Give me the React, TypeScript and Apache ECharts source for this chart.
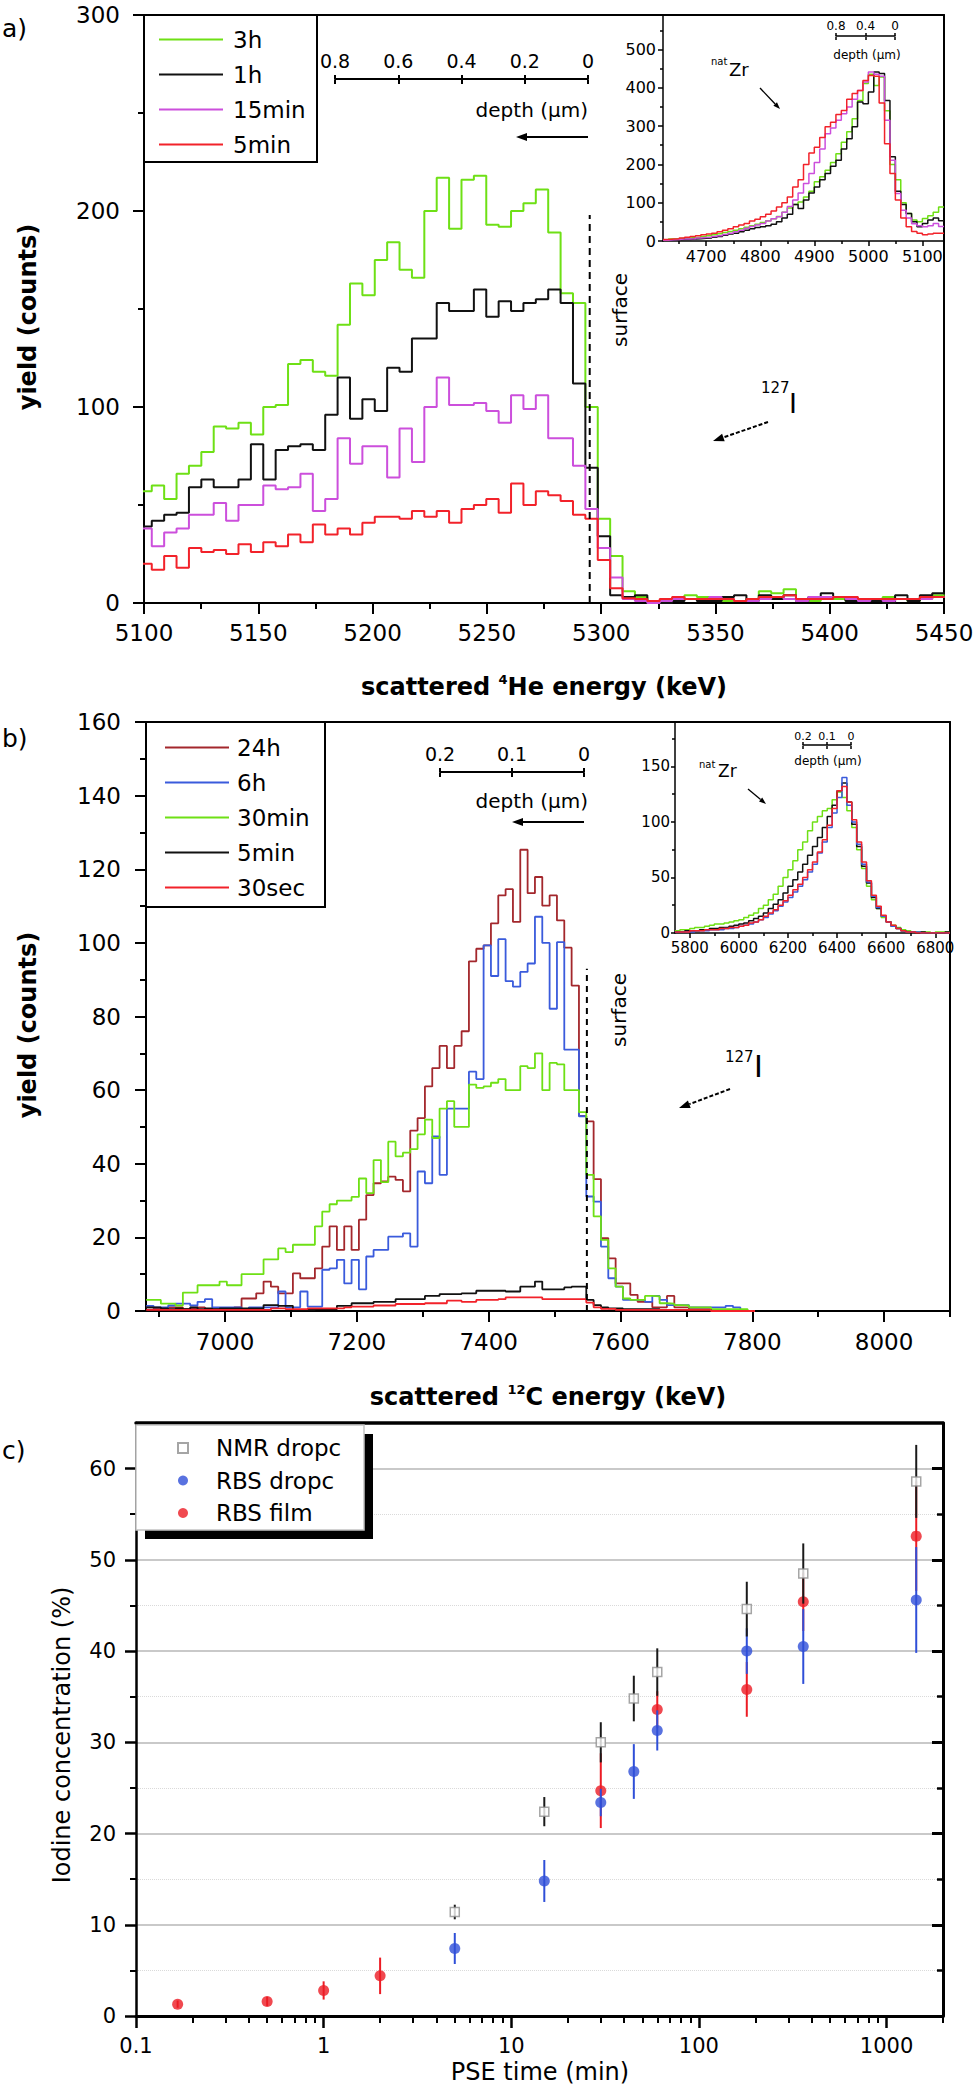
import React, { useEffect, useRef } from "react";
import * as echarts from "echarts";

const FONT = '"DejaVu Sans", Verdana, sans-serif';

/* ---------------- panel a) : 4He RBS spectra, counts per channel ---------------- */
const aChannel0 = 5097.98; // keV, lower edge of first channel drawn
const aChannelWidth = 5.42; // keV per channel
const a3h = [57,60,53,66,70,77,90,89,92,86,100,101,122,124,118,116,142,163,157,175,184,170,166,200,217,191,216,218,193,192,200,204,211,189,158,153,100,43,24,6,3,1,1,2,4,3,2,1,1,2,6,5,7,2,1,3,2,1,1,1,3,2,1,2,4];
const a1h = [39,42,45,46,59,63,59,59,63,81,63,78,80,81,78,96,115,94,104,98,120,118,135,135,153,149,149,160,146,154,149,153,155,160,153,112,69,34,4,3,4,1,0,1,2,1,1,3,4,1,4,2,4,1,3,5,3,1,2,1,0,4,1,4,5];
const a15min = [38,29,36,38,45,45,51,42,50,50,60,58,59,66,47,53,84,71,80,80,64,89,72,100,115,101,101,102,98,92,106,99,106,84,84,70,48,28,13,2,1,0,1,2,2,2,3,2,1,1,2,3,2,1,3,3,3,2,1,2,1,2,2,2,3];
const a5min = [20,17,24,18,28,26,27,25,30,26,31,29,35,31,40,35,38,35,41,44,44,43,47,44,47,41,48,50,53,46,61,50,57,55,52,45,43,22,7.5,2.4,2,1,2,3,2,2,2,2,1,2,3,3,4,2,2,2,3,3,2,2,2,2,2,3,3];
const aSurfaceE = 5295;
const aSurfaceTop = 198;

const aInChannel0 = 4620;
const aInChannelWidth = 10;
const aIn3h = [3,5,6,7,8,9,10,12,14,16,19,22,25,28,32,36,40,44,48,53,58,64,75,86,95,102,115,130,155,168,185,205,228,258,285,319,367,411,435,406,428,340,200,160,100,72,55,50,59,66,75,89];
const aIn1h = [2,3,3,4,4,5,6,7,8,10,12,15,18,20,24,28,32,35,37,40,44,50,60,70,95,85,107,125,141,160,176,195,211,240,267,298,363,358,389,441,437,367,220,130,95,72,50,37,46,55,60,53];
const aIn15min = [2,3,4,5,5,6,8,9,10,12,14,17,20,24,28,33,38,42,46,52,58,63,75,90,107,125,150,176,205,240,280,295,315,332,350,370,393,415,441,435,430,315,211,124,80,60,45,40,37,40,46,38];
const aIn5min = [4,5,6,8,10,12,14,16,18,20,24,28,32,37,42,46,52,57,63,70,78,89,100,115,141,160,200,230,245,270,298,310,330,341,370,385,393,419,432,430,360,254,176,107,60,37,25,20,16,18,20,20];

const aNames = ["3h", "1h", "15min", "5min"];
const aInXLabels = [4700, 4800, 4900, 5000, 5100];
const aInXMinor = [4650, 4750, 4850, 4950, 5050];
const aInYLabels = [0, 100, 200, 300, 400, 500];

/* ---------------- panel b) : 12C spectra ---------------- */
const bChannel0 = 6880.3;
const bChannelWidth = 11.13;
const b24h = [1,0.7,0.7,1,1,0.5,0.7,1,0.5,0.5,0.7,0.7,1,3.4,3.4,4.8,8,6.6,4.8,4.8,10.2,8.9,8.9,11.6,17.5,23,16.6,23,16.6,24.8,31.5,34.7,35.2,36.5,35.6,32.5,49,52.4,61,66,72,66,72,76,95,98.4,99.3,105.3,112.9,114.6,105.7,125.3,113.5,117.9,110.1,112.9,106.1,98.7,88.4,53,51.5,35.8,19.8,14.3,7.5,7.5,4.4,2.5,2.5,1,1,4.1,1,1,0.5,0.5,0.5,0.3,0.3,0.3,0,0,0];
const b6h = [1.4,1,1,1.5,2,2,1.5,2.5,3.2,1,1,1,1,0.5,1,1,1,1,5.3,1,1,5.3,1.2,1.2,11.2,11.6,13.9,7.5,13.9,5.9,14.8,16.6,16.6,20.2,20.2,21.1,17.5,37.9,34.7,47.4,37,55,55,55,65,63,99.3,91,101,89.6,88.1,92.1,94.4,107.1,100,82.1,100.2,71,71,52.9,31.1,29.7,17.5,8.9,6.6,3,3,3,2.5,4.1,3,1.6,1.6,1.6,1,1,1,1,1,1.4,1,0,0];
const b30min = [3,3,2,2,1.5,5,5,7,7,7,8,7,7,10,10,10,14,14,17,16,18,18,18,23,27,29,30,30,31,36,32,41,35,46,42,43,44,48,52,47,55,57,50,50,61.5,60.6,61,62,63,60,60,66.5,66,70,60,67.4,67,60,60,54,37,25.7,19.3,11.6,6.6,3.4,3,3,4.1,4,2.1,2,1.6,1.5,1,1,1,0.5,0.5,0.5,0.5,0.5,0];
const b5min = [1,1,0.7,0.5,0.7,0.5,1,0.5,0.7,0.5,0.7,0.7,0.7,0.7,0.7,0.7,1.6,1.6,1.4,1.4,0.3,0.3,0.3,0.5,0.5,0.5,1.4,1.4,2.1,2.1,2.1,2.5,2.5,2.5,3.2,3.2,3.2,3.2,4.1,4.1,4.6,4.6,4.6,4.8,4.8,5.5,5.5,5.5,5.5,5.3,5.3,6.6,6.6,8,5.9,5.9,5.9,6.4,6.6,6.6,3,1.6,1,0.7,0.7,0.5,0.5,0.5,0.5,0.5,0.3,0.3,0.3,0.3,0.3,0.3,0.3,0,0,0,0,0,0];
const b30sec = [0.3,0.3,0.3,0.3,0.3,0.3,0.3,0.3,0.3,0.3,0.3,0.3,0.3,0.3,0.3,0.3,0.3,0.7,0.7,0.5,0.5,0.5,0.7,0.7,0.7,0.7,0.7,1,1.2,1.2,1.2,1.5,1.5,1.5,1.9,1.9,1.9,1.9,2.1,2.1,2.1,2.8,2.8,2.5,2.5,3,3,3,3.2,3.7,3.7,3.7,3.7,3.7,3.2,3.2,3.2,3.2,3.2,3.2,2.3,1,0.6,0.6,0.3,0.3,0.3,0.3,0.3,0.3,0.3,0.3,0.3,0.3,0.3,0.3,0.3,0,0,0,0,0,0];
const bSurfaceE = 7549;
const bSurfaceTop = 93;

const bInChannel0 = 5740;
const bInChannelWidth = 20;
const bIn30min = [2,3,3,4,5,5,6,7,8,8,9,10,11,12,14,16,18,22,25,30,35,42,50,57,65,75,82,92,100,105,110,112,120,127,122,110,95,75,58,42,30,22,14,10,7,5,3,2,1,1,1,1,0,1,1,1];
const bIn5min = [1,1,2,2,2,3,3,4,4,5,5,6,7,8,9,11,13,15,18,22,26,30,36,42,48,55,62,70,78,86,95,105,115,128,135,118,98,78,60,45,32,22,15,10,6,4,2,1,1,0,1,0,0,0,0,1];
const bIn6h = [1,1,1,1,2,2,2,3,3,3,4,4,5,6,7,8,10,12,14,17,20,24,28,32,37,42,48,55,62,72,82,95,108,122,140,115,100,80,62,46,33,23,15,10,6,4,2,1,1,1,0,0,0,0,0,0];
const bIn30sec = [1,1,1,2,2,2,3,3,3,4,4,5,5,6,7,9,10,12,15,18,21,25,29,34,39,44,50,57,64,73,84,97,112,128,132,118,102,82,64,47,34,24,16,10,7,4,2,1,1,0,0,0,0,0,0,0];

const bNames = ["24h", "6h", "30min", "5min", "30sec"];
const bXLabels = [7000, 7200, 7400, 7600, 7800, 8000];
const bXMinor = [6900, 7100, 7300, 7500, 7700, 7900, 8100];
const bInXLabels = [5800, 6000, 6200, 6400, 6600, 6800];
const bInXMinor = [5900, 6100, 6300, 6500, 6700];
const bInYLabels = [0, 50, 100, 150];

/* ---------------- panel c) : iodine concentration vs PSE time ---------------- */
const cNmrT = [5, 15, 30, 45, 60, 180, 360, 1440];
const cNmr = [11.4, 22.4, 30.0, 34.8, 37.7, 44.6, 48.5, 58.6];
const cNmrErr = [0.8, 1.6, 2.2, 2.5, 2.6, 3.0, 3.3, 4.0];
const cDropT = [5, 15, 30, 45, 60, 180, 360, 1440];
const cDrop = [7.4, 14.8, 23.4, 26.8, 31.3, 40.0, 40.5, 45.6];
const cDropErr = [1.7, 2.3, 1.5, 3.0, 2.2, 2.5, 4.1, 5.8];
const cFilmT = [0.1667, 0.5, 1, 2, 30, 60, 180, 360, 1440];
const cFilm = [1.3, 1.6, 2.8, 4.4, 24.7, 33.6, 35.8, 45.4, 52.6];
const cFilmErr = [0.4, 0.5, 1.0, 2.0, 4.1, 2.0, 3.0, 3.2, 6.0];
const cXLabels = [0.1, 1, 10, 100, 1000];
const cXMinor = [0.2,0.3,0.4,0.5,0.6,0.7,0.8,0.9,2,3,4,5,6,7,8,9,20,30,40,50,60,70,80,90,200,300,400,500,600,700,800,900,2000];
const cYLabels = [0, 10, 20, 30, 40, 50, 60];

/* ---------------- colours ---------------- */
const GREEN = "#6ee015";
const BLACK = "#111111";
const MAGENTA = "#cc4fdc";
const RED = "#f2222a";
const DARKRED = "#a3272c";
const BLUE = "#3a5bdc";
const C_BLUE = "#2f4fd8";
const C_RED = "#ec1c24";

const fmt = (v: number) => String(Math.round(v * 1000) / 1000);

function steps(start: number, width: number, vals: number[]) {
  const pts: number[][] = vals.map((v, i) => [start + i * width, v]);
  pts.push([start + vals.length * width, vals[vals.length - 1]]);
  return pts;
}

function hist(name: string, xi: number, yi: number, start: number, width: number, vals: number[], color: string, lw: number) {
  return {
    type: "line", name, xAxisIndex: xi, yAxisIndex: yi,
    data: steps(start, width, vals), step: "end",
    showSymbol: false, symbol: "none", clip: true, silent: true,
    lineStyle: { color, width: lw }, itemStyle: { color },
    emphasis: { disabled: true },
  };
}

const line = (w: number) => ({ show: true, onZero: false, lineStyle: { color: "#000", width: w } });
const noLine = { show: false, onZero: false };
const lab = (size: number, margin: number, extra: any = {}) => ({
  show: true, fontSize: size, fontFamily: FONT, color: "#000", margin, formatter: fmt, ...extra,
});
const tick = (len: number, w: number, extra: any = {}) => ({ show: true, length: len, lineStyle: { color: "#000", width: w }, ...extra });
const off = { show: false };

function text(t: string, x: number, y: number, size: number, o: any = {}) {
  return {
    type: "text", x, y, rotation: o.rot || 0, silent: true, z: 20,
    style: {
      text: t, fontSize: size, fontFamily: FONT, fontWeight: o.weight || "normal", fill: "#000",
      align: o.align || "left", verticalAlign: "middle", rich: o.rich,
    },
  };
}

function arrow(x1: number, y1: number, x2: number, y2: number, dashed: boolean, head: number, hw: number, lw: number) {
  const ang = Math.atan2(y2 - y1, x2 - x1);
  const bx = x2 - head * Math.cos(ang);
  const by = y2 - head * Math.sin(ang);
  const px = -Math.sin(ang) * hw;
  const py = Math.cos(ang) * hw;
  return [
    { type: "line", silent: true, z: 20, shape: { x1, y1, x2: bx, y2: by }, style: { stroke: "#000", lineWidth: lw, lineDash: dashed ? [4, 2] : null } },
    { type: "polygon", silent: true, z: 20, shape: { points: [[x2, y2], [bx + px, by + py], [bx - px, by - py]] }, style: { fill: "#000" } },
  ];
}

function errBars(name: string, t: number[], v: number[], e: number[], color: string, z: number) {
  return {
    type: "custom", name, coordinateSystem: "cartesian2d", xAxisIndex: 9, yAxisIndex: 6, z, silent: true,
    data: t.map((x, i) => [x, v[i], e[i]]),
    encode: { x: 0, y: 1 },
    renderItem: (_p: any, api: any) => {
      const x = api.value(0), y = api.value(1), er = api.value(2);
      const p1 = api.coord([x, y - er]);
      const p2 = api.coord([x, y + er]);
      return { type: "line", shape: { x1: p1[0], y1: p1[1], x2: p2[0], y2: p2[1] }, style: { stroke: color, lineWidth: 2 } };
    },
  };
}

const gridBase = { containLabel: false, outerBoundsMode: "none", show: false };

function buildOption() {
  const grid = [
    { ...gridBase, left: 144, top: 15, width: 800, height: 588 }, // 0 a main
    { ...gridBase, left: 663, top: 15, width: 281, height: 226 }, // 1 a inset
    { ...gridBase, left: 146, top: 722, width: 804, height: 589 }, // 2 b main
    { ...gridBase, left: 675, top: 722, width: 275, height: 211 }, // 3 b inset
    { ...gridBase, left: 136, top: 1423, width: 807, height: 593 }, // 4 c
    { ...gridBase, left: 335, top: 79, width: 253, height: 1 }, // 5 depth a
    { ...gridBase, left: 836, top: 36, width: 59, height: 1 }, // 6 depth a inset
    { ...gridBase, left: 440, top: 772, width: 144, height: 1 }, // 7 depth b
    { ...gridBase, left: 803, top: 745, width: 48, height: 1 }, // 8 depth b inset
  ];

  const xAxis: any[] = [
    { gridIndex: 0, type: "value", min: 5100, max: 5450, interval: 50, position: "bottom", axisLine: line(2), axisTick: tick(11, 2),
      minorTick: { show: true, splitNumber: 2, length: 6, lineStyle: { color: "#000", width: 2 } }, axisLabel: lab(23, 18), splitLine: off },
    { gridIndex: 0, type: "value", min: 5100, max: 5450, position: "top", axisLine: line(2), axisTick: off, axisLabel: off, splitLine: off },
    { gridIndex: 1, type: "value", min: 4620, max: 5140, position: "bottom", axisLine: line(1.5), axisTick: tick(5, 1.5, { customValues: aInXLabels }),
      axisLabel: lab(16, 7, { customValues: aInXLabels }), splitLine: off },
    { gridIndex: 1, type: "value", min: 4620, max: 5140, position: "bottom", axisLine: noLine, axisTick: tick(3, 1.5, { customValues: aInXMinor }), axisLabel: off, splitLine: off },
    { gridIndex: 2, type: "value", min: 6880, max: 8100, position: "bottom", axisLine: line(2), axisTick: tick(11, 2, { customValues: bXLabels }),
      axisLabel: lab(23, 19, { customValues: bXLabels }), splitLine: off },
    { gridIndex: 2, type: "value", min: 6880, max: 8100, position: "bottom", axisLine: noLine, axisTick: tick(6, 2, { customValues: bXMinor }), axisLabel: off, splitLine: off },
    { gridIndex: 2, type: "value", min: 6880, max: 8100, position: "top", axisLine: line(2), axisTick: off, axisLabel: off, splitLine: off },
    { gridIndex: 3, type: "value", min: 5740, max: 6860, position: "bottom", axisLine: line(1.5), axisTick: tick(5, 1.5, { customValues: bInXLabels }),
      axisLabel: lab(15, 7, { customValues: bInXLabels }), splitLine: off },
    { gridIndex: 3, type: "value", min: 5740, max: 6860, position: "bottom", axisLine: noLine, axisTick: tick(3, 1.5, { customValues: bInXMinor }), axisLabel: off, splitLine: off },
    { gridIndex: 4, type: "log", logBase: 10, min: 0.1, max: 2000, position: "bottom", axisLine: line(3), axisTick: tick(12, 2.5, { customValues: cXLabels }),
      axisLabel: lab(21, 19, { customValues: cXLabels }), splitLine: off, minorTick: off },
    { gridIndex: 4, type: "log", logBase: 10, min: 0.1, max: 2000, position: "bottom", axisLine: noLine, axisTick: tick(7, 2, { customValues: cXMinor }), axisLabel: off, splitLine: off },
    { gridIndex: 4, type: "log", logBase: 10, min: 0.1, max: 2000, position: "top", axisLine: line(3.5), axisTick: off, axisLabel: off, splitLine: off },
    { gridIndex: 5, type: "value", min: 0, max: 0.8, interval: 0.2, inverse: true, position: "top", axisLine: line(2), axisTick: tick(4, 2), axisLabel: lab(19, 9), splitLine: off },
    { gridIndex: 5, type: "value", min: 0, max: 0.8, interval: 0.2, inverse: true, position: "bottom", axisLine: noLine, axisTick: tick(4, 2), axisLabel: off, splitLine: off },
    { gridIndex: 6, type: "value", min: 0, max: 0.8, interval: 0.4, inverse: true, position: "top", axisLine: line(1.5), axisTick: tick(3, 1.5), axisLabel: lab(12, 4), splitLine: off },
    { gridIndex: 6, type: "value", min: 0, max: 0.8, interval: 0.4, inverse: true, position: "bottom", axisLine: noLine, axisTick: tick(3, 1.5), axisLabel: off, splitLine: off },
    { gridIndex: 7, type: "value", min: 0, max: 0.2, interval: 0.1, inverse: true, position: "top", axisLine: line(2), axisTick: tick(4, 2), axisLabel: lab(19, 9), splitLine: off },
    { gridIndex: 7, type: "value", min: 0, max: 0.2, interval: 0.1, inverse: true, position: "bottom", axisLine: noLine, axisTick: tick(4, 2), axisLabel: off, splitLine: off },
    { gridIndex: 8, type: "value", min: 0, max: 0.2, interval: 0.1, inverse: true, position: "top", axisLine: line(1.5), axisTick: tick(3, 1.5), axisLabel: lab(11, 3), splitLine: off },
    { gridIndex: 8, type: "value", min: 0, max: 0.2, interval: 0.1, inverse: true, position: "bottom", axisLine: noLine, axisTick: tick(3, 1.5), axisLabel: off, splitLine: off },
  ];

  const yAxis: any[] = [
    { gridIndex: 0, type: "value", min: 0, max: 300, interval: 100, position: "left", axisLine: line(2), axisTick: tick(11, 2),
      minorTick: { show: true, splitNumber: 2, length: 6, lineStyle: { color: "#000", width: 2 } }, axisLabel: lab(23, 24), splitLine: off },
    { gridIndex: 0, type: "value", min: 0, max: 300, position: "right", axisLine: line(2), axisTick: off, axisLabel: off, splitLine: off },
    { gridIndex: 1, type: "value", min: 0, max: 590, interval: 100, position: "left", axisLine: line(1.5), axisTick: tick(5, 1.5, { customValues: aInYLabels }),
      minorTick: { show: true, splitNumber: 2, length: 3, lineStyle: { color: "#000", width: 1.5 } }, axisLabel: lab(16, 7, { customValues: aInYLabels }), splitLine: off },
    { gridIndex: 2, type: "value", min: 0, max: 160, interval: 20, position: "left", axisLine: line(2), axisTick: tick(11, 2),
      minorTick: { show: true, splitNumber: 2, length: 6, lineStyle: { color: "#000", width: 2 } }, axisLabel: lab(23, 25), splitLine: off },
    { gridIndex: 2, type: "value", min: 0, max: 160, position: "right", axisLine: line(2), axisTick: off, axisLabel: off, splitLine: off },
    { gridIndex: 3, type: "value", min: 0, max: 190, interval: 50, position: "left", axisLine: line(1.5), axisTick: tick(4, 1.5, { customValues: bInYLabels }),
      minorTick: { show: true, splitNumber: 2, length: 3, lineStyle: { color: "#000", width: 1.5 } }, axisLabel: lab(15, 5, { customValues: bInYLabels }), splitLine: off },
    { gridIndex: 4, type: "value", min: 0, max: 65, interval: 10, position: "left", axisLine: line(2.5), axisTick: tick(11, 2.5, { customValues: cYLabels }),
      minorTick: { show: true, splitNumber: 2, length: 6, lineStyle: { color: "#000", width: 2 } },
      axisLabel: lab(21, 20, { customValues: cYLabels }),
      splitLine: { show: true, lineStyle: { color: "#c9c9c9", width: 2 } },
      minorSplitLine: { show: true, lineStyle: { color: "#dadada", width: 1, type: "dotted" } } },
    { gridIndex: 4, type: "value", min: 0, max: 65, interval: 10, position: "right", axisLine: line(3),
      axisTick: tick(11, 3, { inside: true, customValues: cYLabels }),
      minorTick: { show: true, splitNumber: 2, length: 6, lineStyle: { color: "#000", width: 2.5 } }, axisLabel: off, splitLine: off },
    { gridIndex: 5, type: "value", show: false },
    { gridIndex: 6, type: "value", show: false },
    { gridIndex: 7, type: "value", show: false },
    { gridIndex: 8, type: "value", show: false },
  ];

  const aColors = [GREEN, BLACK, MAGENTA, RED];
  const aVals = [a3h, a1h, a15min, a5min];
  const aInVals = [aIn3h, aIn1h, aIn15min, aIn5min];
  const bColors = [DARKRED, BLUE, GREEN, BLACK, RED];
  const bVals = [b24h, b6h, b30min, b5min, b30sec];
  const bInNames = ["30min", "5min", "6h", "30sec"];
  const bInColors = [GREEN, BLACK, BLUE, RED];
  const bInVals = [bIn30min, bIn5min, bIn6h, bIn30sec];

  const series: any[] = [];
  aNames.forEach((n, i) => series.push(hist(n, 0, 0, aChannel0, aChannelWidth, aVals[i], aColors[i], 2)));
  series.push({ type: "line", name: "aSurface", xAxisIndex: 0, yAxisIndex: 0, data: [[aSurfaceE, 0], [aSurfaceE, aSurfaceTop]], symbol: "none", silent: true,
    lineStyle: { color: "#000", width: 2, type: [7, 5] } });
  aNames.forEach((n, i) => series.push(hist("ia_" + n, 2, 2, aInChannel0, aInChannelWidth, aInVals[i], aColors[i], 1.5)));
  bNames.forEach((n, i) => series.push(hist("b_" + n, 4, 3, bChannel0, bChannelWidth, bVals[i], bColors[i], 1.8)));
  series.push({ type: "line", name: "bSurface", xAxisIndex: 4, yAxisIndex: 3, data: [[bSurfaceE, 0], [bSurfaceE, bSurfaceTop]], symbol: "none", silent: true,
    lineStyle: { color: "#000", width: 2, type: [6, 5] } });
  bInNames.forEach((n, i) => series.push(hist("ib_" + n, 7, 5, bInChannel0, bInChannelWidth, bInVals[i], bInColors[i], 1.5)));

  series.push(errBars("errFilm", cFilmT, cFilm, cFilmErr, C_RED, 2));
  series.push({ type: "scatter", name: "RBS film", xAxisIndex: 9, yAxisIndex: 6, z: 3, symbol: "circle", symbolSize: 11, silent: true,
    itemStyle: { color: C_RED }, data: cFilmT.map((t, i) => [t, cFilm[i]]) });
  series.push(errBars("errDrop", cDropT, cDrop, cDropErr, C_BLUE, 4));
  series.push({ type: "scatter", name: "RBS dropc", xAxisIndex: 9, yAxisIndex: 6, z: 5, symbol: "circle", symbolSize: 11, silent: true,
    itemStyle: { color: C_BLUE }, data: cDropT.map((t, i) => [t, cDrop[i]]) });
  series.push(errBars("errNmr", cNmrT, cNmr, cNmrErr, "#1a1a1a", 6));
  series.push({ type: "scatter", name: "NMR dropc", xAxisIndex: 9, yAxisIndex: 6, z: 7, symbol: "rect", symbolSize: 9, silent: true,
    itemStyle: { color: "#ffffff", borderColor: "#8f8f8f", borderWidth: 1.5 }, data: cNmrT.map((t, i) => [t, cNmr[i]]) });

  const legend = [
    { data: aNames, orient: "vertical", left: 159, top: 27, padding: 0, itemGap: 10, itemWidth: 64, itemHeight: 2, icon: "rect",
      selectedMode: false, z: 30, textStyle: { fontSize: 23, fontFamily: FONT, color: "#000", lineHeight: 25, padding: [0, 0, 0, 5] } },
    { data: bNames.map((n) => "b_" + n), formatter: (n: string) => n.slice(2), orient: "vertical", left: 165, top: 735, padding: 0, itemGap: 10,
      itemWidth: 64, itemHeight: 2, icon: "rect", selectedMode: false, z: 30,
      textStyle: { fontSize: 23, fontFamily: FONT, color: "#000", lineHeight: 25, padding: [0, 0, 0, 3] } },
    { data: ["NMR dropc", "RBS dropc", "RBS film"], orient: "vertical", left: 177, top: 1436, padding: 0, itemGap: 8.5, itemWidth: 10, itemHeight: 10,
      selectedMode: false, z: 30, textStyle: { fontSize: 23, fontFamily: FONT, color: "#000", lineHeight: 24, padding: [0, 0, 0, 23] } },
  ];

  const sup = (size: number) => ({ fontSize: size, fontFamily: FONT, fontWeight: "bold", fill: "#000", verticalAlign: "top", lineHeight: size });
  const big = { fontSize: 24, fontFamily: FONT, fontWeight: "bold", fill: "#000", lineHeight: 28 };

  const elements: any[] = [
    { type: "rect", silent: true, z: 3, shape: { x: 144, y: 15, width: 173, height: 147 }, style: { fill: "none", stroke: "#000", lineWidth: 2 } },
    { type: "rect", silent: true, z: 3, shape: { x: 146, y: 722, width: 179, height: 185 }, style: { fill: "none", stroke: "#000", lineWidth: 2 } },
    { type: "rect", silent: true, z: 3, shape: { x: 145, y: 1434, width: 228, height: 105 }, style: { fill: "#000" } },
    { type: "rect", silent: true, z: 3, shape: { x: 136, y: 1425, width: 228, height: 105 }, style: { fill: "#fff", stroke: "#c4c4c4", lineWidth: 1.5 } },

    text("a)", 2, 28, 25),
    text("b)", 2, 738, 25),
    text("c)", 2, 1450, 25),

    text("{b|scattered }{s|4}{b|He energy (keV)}", 544, 687, 24, { align: "center", rich: { b: big, s: sup(13) } }),
    text("yield (counts)", 28, 317, 24, { align: "center", weight: "bold", rot: Math.PI / 2 }),
    text("{b|scattered }{s|12}{b|C energy (keV)}", 548, 1397, 24, { align: "center", rich: { b: big, s: sup(13) } }),
    text("yield (counts)", 28, 1025, 24, { align: "center", weight: "bold", rot: Math.PI / 2 }),
    text("PSE time (min)", 540, 2072, 24, { align: "center" }),
    text("Iodine concentration (%)", 62, 1735, 24, { align: "center", rot: Math.PI / 2 }),

    text("depth (\u03bcm)", 588, 110, 20, { align: "right" }),
    ...arrow(588, 137, 516, 137, false, 11, 4, 2),
    text("surface", 620, 310, 20, { align: "center", rot: Math.PI / 2 }),
    text("127", 761, 388, 15),
    text("I", 789, 403, 27),
    ...arrow(768, 422, 713, 441, true, 11, 4, 2),
    text("depth (\u03bcm)", 867, 55, 12, { align: "center" }),
    text("nat", 711, 61, 10),
    text("Zr", 729, 69, 18),
    ...arrow(760, 88, 780, 109, false, 7, 2.5, 1.3),

    text("depth (\u03bcm)", 588, 801, 20, { align: "right" }),
    ...arrow(584, 822, 512, 822, false, 11, 4, 2),
    text("surface", 619, 1010, 20, { align: "center", rot: Math.PI / 2 }),
    text("127", 725, 1057, 15),
    text("I", 754, 1066, 30),
    ...arrow(730, 1089, 679, 1108, true, 11, 4, 2),
    text("depth (\u03bcm)", 828, 761, 12, { align: "center" }),
    text("nat", 699, 764, 10),
    text("Zr", 718, 771, 17),
    ...arrow(748, 789, 766, 804, false, 7, 2.5, 1.3),
  ];

  return {
    backgroundColor: "#ffffff",
    animation: false,
    textStyle: { fontFamily: FONT },
    grid, xAxis, yAxis, legend, series,
    graphic: { elements },
  };
}

export default function App() {
  const ref = useRef<HTMLDivElement>(null);
  useEffect(() => {
    document.body.style.margin = "0";
    const chart = echarts.init(ref.current as HTMLDivElement, undefined, { renderer: "svg", width: 975, height: 2088 });
    chart.setOption(buildOption() as any);
    return () => chart.dispose();
  }, []);
  return <div ref={ref} style={{ width: 975, height: 2088, background: "#fff" }} />;
}
